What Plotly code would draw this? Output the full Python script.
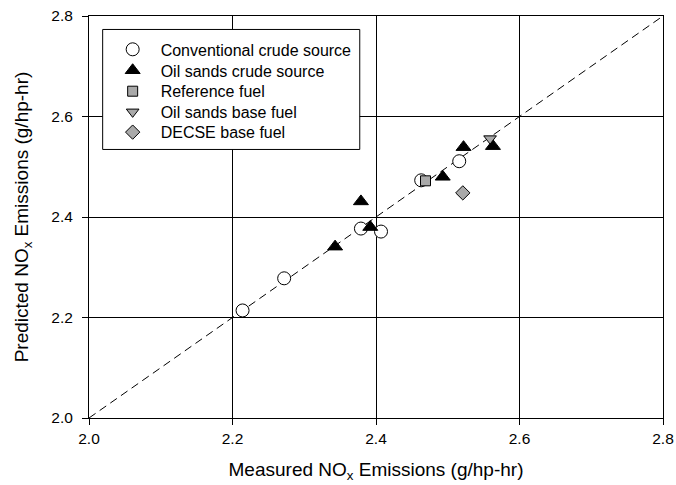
import plotly.graph_objects as go

conv_x = [2.214, 2.272, 2.379, 2.407, 2.463, 2.516]
conv_y = [2.214, 2.278, 2.377, 2.371, 2.473, 2.511]
oil_x = [2.343, 2.379, 2.392, 2.493, 2.522, 2.563]
oil_y = [2.341, 2.431, 2.380, 2.480, 2.539, 2.541]
ref_x = [2.469]
ref_y = [2.472]
osb_x = [2.559]
osb_y = [2.556]
dec_x = [2.521]
dec_y = [2.448]
axis_range = [2.0, 2.8]
tick_vals = [2.0, 2.2, 2.4, 2.6, 2.8]

font = "Liberation Sans, Arial, sans-serif"
gray = "#a9a9a9"

fig = go.Figure()
fig.add_trace(go.Scatter(x=axis_range, y=axis_range, mode="lines",
                         line=dict(color="black", width=1, dash="8px,5px"),
                         showlegend=False, hoverinfo="skip"))
fig.add_trace(go.Scatter(x=conv_x, y=conv_y, mode="markers", name="Conventional crude source",
                         legend="legend",
                         marker=dict(symbol="circle", size=13, color="white",
                                     line=dict(color="black", width=1))))
fig.add_trace(go.Scatter(x=oil_x, y=oil_y, mode="markers", name="Oil sands crude source",
                         legend="legend2",
                         marker=dict(symbol="triangle-up", size=13, color="black",
                                     line=dict(color="black", width=1))))
fig.add_trace(go.Scatter(x=ref_x, y=ref_y, mode="markers", name="Reference fuel",
                         legend="legend3",
                         marker=dict(symbol="square", size=10, color=gray,
                                     line=dict(color="black", width=1))))
fig.add_trace(go.Scatter(x=osb_x, y=osb_y, mode="markers", name="Oil sands base fuel",
                         legend="legend4",
                         marker=dict(symbol="triangle-down", size=11, color=gray,
                                     line=dict(color="black", width=1))))
fig.add_trace(go.Scatter(x=dec_x, y=dec_y, mode="markers", name="DECSE base fuel",
                         legend="legend5",
                         marker=dict(symbol="diamond", size=11, color=gray,
                                     line=dict(color="black", width=1))))

axis_common = dict(range=axis_range, tickvals=tick_vals, tickformat=".1f",
                   showgrid=True, gridcolor="black", gridwidth=1,
                   showline=True, linecolor="black", linewidth=1, mirror=True,
                   ticks="outside", ticklen=6, tickcolor="black", automargin=False,
                   zeroline=False, tickfont=dict(size=15.5, color="black", family=font))

legend_rows = [0.9169, 0.8648, 0.8127, 0.7613, 0.7109]
legend_style = dict(x=0.0273, xanchor="left", yanchor="middle",
                    bgcolor="rgba(0,0,0,0)", borderwidth=0, itemwidth=46,
                    font=dict(size=16, family=font))

fig.update_layout(
    width=676, height=485,
    margin=dict(l=89, r=12.5, t=15.5, b=66.5),
    paper_bgcolor="white", plot_bgcolor="white",
    font=dict(family=font, color="black", size=15),
    xaxis=dict(**axis_common,
               title=dict(text="Measured NO<sub>x</sub> Emissions (g/hp-hr)",
                          font=dict(size=19), standoff=17)),
    yaxis=dict(**axis_common, ticklabelstandoff=6,
               title=dict(text="Predicted NO<sub>x</sub> Emissions (g/hp-hr)",
                          font=dict(size=19), standoff=17)),
    legend=dict(y=legend_rows[0], **legend_style),
    legend2=dict(y=legend_rows[1], **legend_style),
    legend3=dict(y=legend_rows[2], **legend_style),
    legend4=dict(y=legend_rows[3], **legend_style),
    legend5=dict(y=legend_rows[4], **legend_style),
    showlegend=True,
    shapes=[dict(type="rect", xref="paper", yref="paper",
                 x0=0.0238, x1=0.4717, y0=0.668, y1=0.9665,
                 fillcolor="white", line=dict(color="black", width=1), layer="above")],
)

fig.write_html("out.html", config={"displayModeBar": False},
               post_script="document.body.style.margin='0';")
